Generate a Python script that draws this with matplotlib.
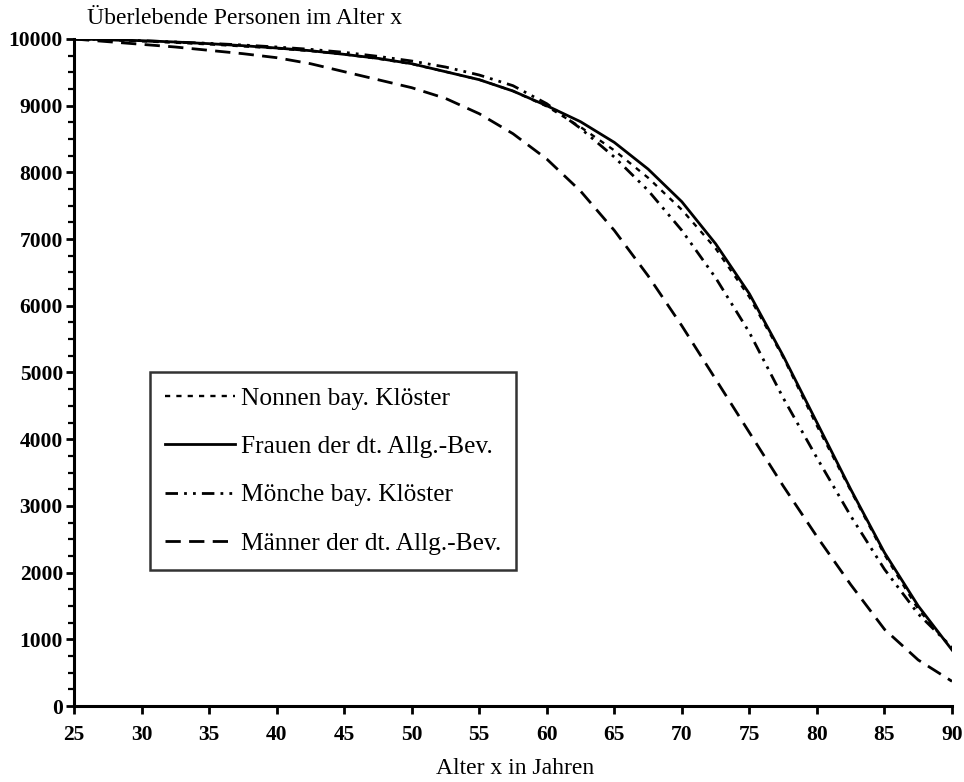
import matplotlib
matplotlib.use("Agg")
import matplotlib.pyplot as plt
from matplotlib.ticker import MultipleLocator

plt.rcParams['font.family'] = ['Liberation Serif', 'DejaVu Serif']

ages = [25, 27.5, 30, 32.5, 35, 37.5, 40, 42.5, 45, 47.5, 50, 52.5, 55, 57.5,
        60, 62.5, 65, 67.5, 70, 72.5, 75, 77.5, 80, 82.5, 85, 87.5, 90]

nonnen = [10000, 9985, 9965, 9945, 9920, 9890, 9860, 9820, 9770, 9705, 9625, 9510, 9390, 9220,
          8990, 8680, 8330, 7920, 7440, 6860, 6130, 5230, 4200, 3230, 2270, 1450, 860]
frauen = [10000, 9990, 9975, 9955, 9930, 9900, 9865, 9825, 9770, 9710, 9630, 9510, 9390, 9220,
          9000, 8760, 8450, 8050, 7560, 6930, 6180, 5250, 4250, 3250, 2300, 1500, 840]
moenche = [10000, 9990, 9975, 9955, 9935, 9910, 9880, 9845, 9800, 9740, 9670, 9580, 9460, 9300,
           9030, 8660, 8230, 7730, 7130, 6420, 5600, 4620, 3720, 2850, 2050, 1380, 880]
maenner = [10000, 9960, 9920, 9880, 9830, 9780, 9720, 9630, 9510, 9390, 9270, 9110, 8880, 8580,
           8200, 7720, 7130, 6450, 5700, 4900, 4100, 3300, 2540, 1820, 1150, 690, 370]

labels = ["Nonnen bay. Klöster", "Frauen der dt. Allg.-Bev.",
          "Mönche bay. Klöster", "Männer der dt. Allg.-Bev."]

W, H = 964, 782
fig = plt.figure(figsize=(W / 100, H / 100), dpi=100)
ax = fig.add_axes([74 / W, 1 - 706 / H, (952 - 74) / W, (706 - 39) / H])

lw = 2.0
ax.plot(ages, nonnen, color='black', lw=1.7, dashes=(2.2, 2.6), label=labels[0])
ax.plot(ages, frauen, color='black', lw=lw, linestyle='-', label=labels[1])
ax.plot(ages, moenche, color='black', lw=lw, dashes=(4.5, 2.2, 1.0, 2.2, 1.0, 2.2), label=labels[2])
ax.plot(ages, maenner, color='black', lw=lw, dashes=(5.5, 3), label=labels[3])

ax.set_xlim(25, 90)
ax.set_ylim(0, 10000)
ax.xaxis.set_major_locator(MultipleLocator(5))
ax.yaxis.set_major_locator(MultipleLocator(1000))
ax.yaxis.set_minor_locator(MultipleLocator(250))

for s in ['top', 'right']:
    ax.spines[s].set_visible(False)
for s in ['left', 'bottom']:
    ax.spines[s].set_linewidth(2.2)

ax.tick_params(axis='both', which='major', direction='out', length=6, width=2,
               labelsize=15.5)
ax.tick_params(axis='y', which='minor', direction='out', length=4, width=1.6)
ax.tick_params(axis='x', which='major', pad=8)
ax.tick_params(axis='y', which='major', pad=2)
for lab in ax.get_xticklabels() + ax.get_yticklabels():
    lab.set_fontweight('bold')

fig.text(87 / W, 1 - 18 / H, "Überlebende Personen im Alter x", fontsize=17,
         ha='left', va='center')
fig.text(515 / W, 1 - 768 / H, "Alter x in Jahren", fontsize=17,
         ha='center', va='center')

leg = ax.legend(loc='upper left', bbox_to_anchor=(0.0866, 0.5008),
                fontsize=18.3, frameon=True, fancybox=False, edgecolor='black',
                handlelength=2.75, handletextpad=0.22, labelspacing=1.0,
                borderpad=0.6, borderaxespad=0.0)
leg.get_frame().set_linewidth(1.8)

fig.savefig("out.png", dpi=100)
